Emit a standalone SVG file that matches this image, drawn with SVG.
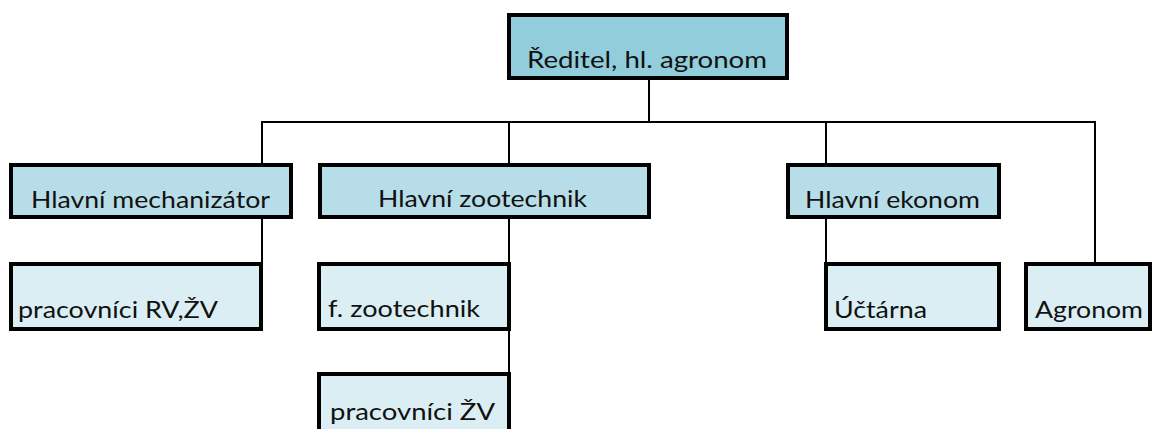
<svg xmlns="http://www.w3.org/2000/svg" width="1154" height="429" viewBox="0 0 1154 429">
<style>
  .box { stroke: #000; stroke-width: 4; }
  .l0 { fill: #92CDDC; }
  .l1 { fill: #B7DEE8; }
  .l2 { fill: #DAEEF3; }
  .t { font-family: Lato, "Open Sans", "Liberation Sans", sans-serif; font-size: 24px; fill: #111; }
  .conn { stroke: #000; stroke-width: 2; fill: none; }
</style>
<rect width="1154" height="429" fill="#fff"/>
<g id="connectors">
  <line class="conn" x1="649" y1="80" x2="649" y2="122"/>
  <line class="conn" x1="261" y1="122" x2="1096" y2="122"/>
  <line class="conn" x1="262" y1="122" x2="262" y2="262"/>
  <line class="conn" x1="509" y1="122" x2="509" y2="372"/>
  <line class="conn" x1="826" y1="122" x2="826" y2="262"/>
  <line class="conn" x1="1095" y1="122" x2="1095" y2="262"/>
</g>
<g id="reditel">
  <rect class="box l0" x="509" y="15" width="278" height="63"/>
  <text class="t" x="527" y="68" textLength="240" lengthAdjust="spacingAndGlyphs">Ředitel, hl. agronom</text>
</g>
<g id="mechanizator">
  <rect class="box l1" x="11" y="165" width="280" height="52"/>
  <text class="t" x="31" y="208" textLength="239" lengthAdjust="spacingAndGlyphs">Hlavní mechanizátor</text>
</g>
<g id="zootechnik">
  <rect class="box l1" x="320" y="165" width="329" height="52"/>
  <text class="t" x="378" y="207" textLength="209" lengthAdjust="spacingAndGlyphs">Hlavní zootechnik</text>
</g>
<g id="ekonom">
  <rect class="box l1" x="788" y="165" width="211" height="52"/>
  <text class="t" x="805" y="208" textLength="175" lengthAdjust="spacingAndGlyphs">Hlavní ekonom</text>
</g>
<g id="pracovnici-rv-zv">
  <rect class="box l2" x="11" y="264" width="250" height="65"/>
  <text class="t" x="18" y="318" textLength="200" lengthAdjust="spacingAndGlyphs">pracovníci RV,ŽV</text>
</g>
<g id="f-zootechnik">
  <rect class="box l2" x="319" y="264" width="190" height="65"/>
  <text class="t" x="328" y="317" textLength="152" lengthAdjust="spacingAndGlyphs">f. zootechnik</text>
</g>
<g id="pracovnici-zv">
  <rect class="box l2" x="319" y="374" width="190" height="70"/>
  <text class="t" x="330" y="420" textLength="165" lengthAdjust="spacingAndGlyphs">pracovníci ŽV</text>
</g>
<g id="uctarna">
  <rect class="box l2" x="826" y="264" width="173" height="65"/>
  <text class="t" x="834" y="318" textLength="93" lengthAdjust="spacingAndGlyphs">Účtárna</text>
</g>
<g id="agronom">
  <rect class="box l2" x="1026" y="264" width="124" height="65"/>
  <text class="t" x="1035" y="318" textLength="108" lengthAdjust="spacingAndGlyphs">Agronom</text>
</g>
</svg>
